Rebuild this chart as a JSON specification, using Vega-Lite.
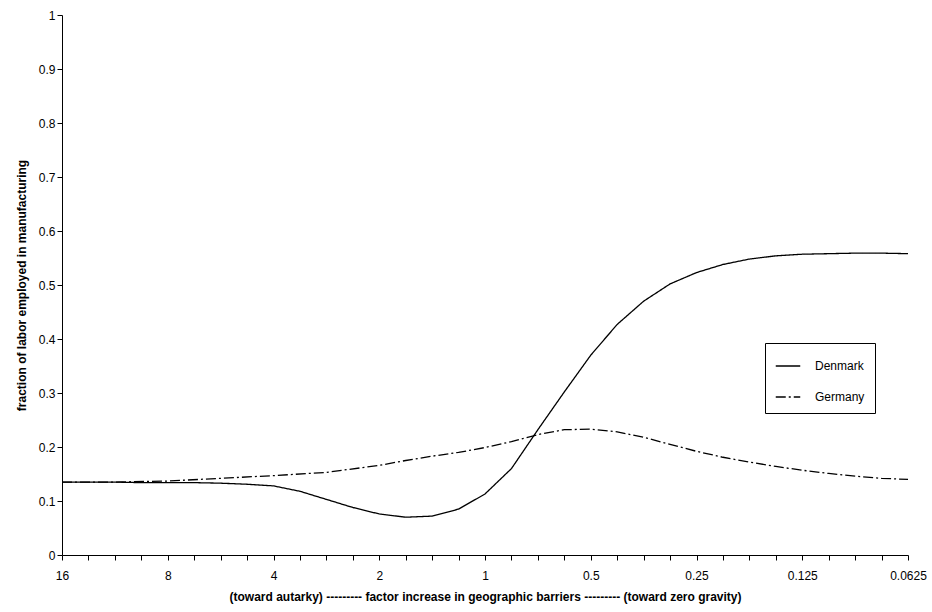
{
  "$schema": "https://vega.github.io/schema/vega-lite/v6.json",
  "width": 846,
  "height": 540,
  "autosize": {"type": "none"},
  "padding": {"left": 62, "top": 15, "right": 24, "bottom": 57},
  "background": "white",
  "config": {
    "font": "Liberation Sans",
    "view": {"stroke": null},
    "axis": {"grid": false, "domainColor": "black", "tickColor": "black", "labelColor": "black", "titleColor": "black", "labelFontSize": 12, "titleFontSize": 12, "titleFontWeight": "bold"}
  },
  "data": {"values": [
    {"k":0,"country":"Denmark","v":0.135},{"k":0.25,"country":"Denmark","v":0.135},{"k":0.5,"country":"Denmark","v":0.135},{"k":0.75,"country":"Denmark","v":0.134},
    {"k":1,"country":"Denmark","v":0.134},{"k":1.25,"country":"Denmark","v":0.134},{"k":1.5,"country":"Denmark","v":0.133},{"k":1.75,"country":"Denmark","v":0.131},
    {"k":2,"country":"Denmark","v":0.128},{"k":2.25,"country":"Denmark","v":0.118},{"k":2.5,"country":"Denmark","v":0.103},{"k":2.75,"country":"Denmark","v":0.088},
    {"k":3,"country":"Denmark","v":0.076},{"k":3.25,"country":"Denmark","v":0.070},{"k":3.5,"country":"Denmark","v":0.072},{"k":3.75,"country":"Denmark","v":0.085},
    {"k":4,"country":"Denmark","v":0.113},{"k":4.25,"country":"Denmark","v":0.16},{"k":4.5,"country":"Denmark","v":0.232},{"k":4.75,"country":"Denmark","v":0.302},
    {"k":5,"country":"Denmark","v":0.37},{"k":5.25,"country":"Denmark","v":0.427},{"k":5.5,"country":"Denmark","v":0.47},{"k":5.75,"country":"Denmark","v":0.502},
    {"k":6,"country":"Denmark","v":0.523},{"k":6.25,"country":"Denmark","v":0.538},{"k":6.5,"country":"Denmark","v":0.548},{"k":6.75,"country":"Denmark","v":0.554},
    {"k":7,"country":"Denmark","v":0.557},{"k":7.25,"country":"Denmark","v":0.558},{"k":7.5,"country":"Denmark","v":0.559},{"k":7.75,"country":"Denmark","v":0.559},
    {"k":8,"country":"Denmark","v":0.558},
    {"k":0,"country":"Germany","v":0.135},{"k":0.5,"country":"Germany","v":0.135},{"k":1,"country":"Germany","v":0.137},{"k":1.5,"country":"Germany","v":0.142},
    {"k":2,"country":"Germany","v":0.147},{"k":2.5,"country":"Germany","v":0.153},{"k":3,"country":"Germany","v":0.166},{"k":3.25,"country":"Germany","v":0.175},
    {"k":3.5,"country":"Germany","v":0.183},{"k":3.75,"country":"Germany","v":0.19},{"k":4,"country":"Germany","v":0.199},{"k":4.25,"country":"Germany","v":0.21},
    {"k":4.5,"country":"Germany","v":0.223},{"k":4.75,"country":"Germany","v":0.232},{"k":5,"country":"Germany","v":0.233},{"k":5.25,"country":"Germany","v":0.228},
    {"k":5.5,"country":"Germany","v":0.218},{"k":5.75,"country":"Germany","v":0.205},{"k":6,"country":"Germany","v":0.192},{"k":6.25,"country":"Germany","v":0.181},
    {"k":6.5,"country":"Germany","v":0.172},{"k":6.75,"country":"Germany","v":0.164},{"k":7,"country":"Germany","v":0.157},{"k":7.25,"country":"Germany","v":0.151},
    {"k":7.5,"country":"Germany","v":0.146},{"k":7.75,"country":"Germany","v":0.142},{"k":8,"country":"Germany","v":0.140}
  ]},
  "mark": {"type": "line", "color": "black", "strokeWidth": 1.3},
  "encoding": {
    "x": {"field": "k", "type": "quantitative", "scale": {"domain": [0, 8], "nice": false},
      "axis": {"title": "(toward autarky) --------- factor increase in geographic barriers --------- (toward zero gravity)",
        "values": [0,0.25,0.5,0.75,1,1.25,1.5,1.75,2,2.25,2.5,2.75,3,3.25,3.5,3.75,4,4.25,4.5,4.75,5,5.25,5.5,5.75,6,6.25,6.5,6.75,7,7.25,7.5,7.75,8],
        "labelExpr": "datum.value % 1 == 0 ? format(16 / pow(2, datum.value), '') : ''",
        "tickSize": 5, "labelPadding": 10, "titlePadding": 10, "labelFlush": false}},
    "y": {"field": "v", "type": "quantitative", "scale": {"domain": [0, 1], "nice": false},
      "axis": {"title": "fraction of labor employed in manufacturing", "values": [0,0.1,0.2,0.3,0.4,0.5,0.6,0.7,0.8,0.9,1], "format": ".1~f", "tickSize": 5, "titlePadding": 10}},
    "strokeDash": {"field": "country", "type": "nominal",
      "scale": {"domain": ["Denmark", "Germany"], "range": [[1, 0], [10, 3, 2, 3]]},
      "legend": {"title": null, "orient": "none", "legendX": 703, "legendY": 328, "strokeColor": "black", "padding": 10, "symbolSize": 600, "symbolStrokeColor": "black", "symbolStrokeWidth": 1.3, "labelFontSize": 12, "rowPadding": 12, "labelOffset": 14}}
  }
}
